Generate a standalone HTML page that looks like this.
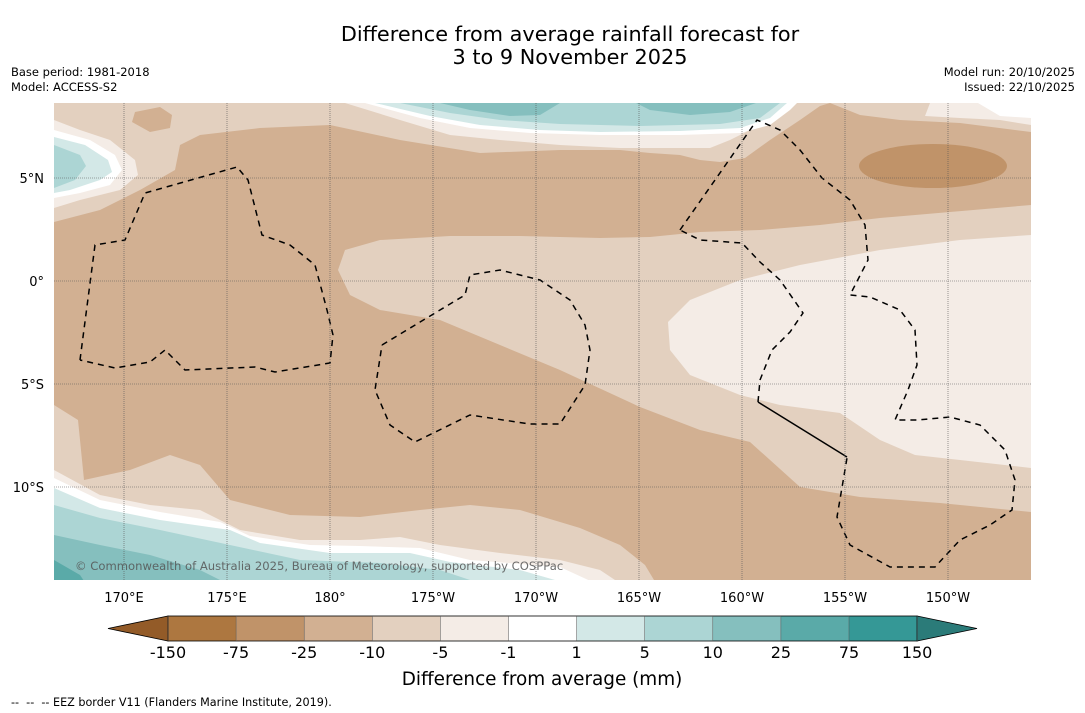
<!DOCTYPE html>
<html><head><meta charset="utf-8"><style>
body{margin:0;background:#fff;width:1085px;height:713px;overflow:hidden;font-family:"Liberation Sans","DejaVu Sans",sans-serif;}
svg{position:absolute;left:0;top:0}
</style></head><body>
<svg id="s" width="1085" height="713" viewBox="0 0 1085 713" font-family="DejaVu Sans, Liberation Sans, sans-serif">
<text x="570" y="41" text-anchor="middle" font-size="20.8">Difference from average rainfall forecast for</text>
<text x="570" y="64" text-anchor="middle" font-size="20.8">3 to 9 November 2025</text>
<text x="11" y="76" font-size="11.5">Base period: 1981-2018</text>
<text x="11" y="91" font-size="11.5">Model: ACCESS-S2</text>
<text x="1075" y="76" font-size="11.5" text-anchor="end">Model run: 20/10/2025</text>
<text x="1075" y="91" font-size="11.5" text-anchor="end">Issued: 22/10/2025</text>
<defs><clipPath id="mc"><rect x="54" y="103" width="977" height="477"/></clipPath></defs>
<g clip-path="url(#mc)">
<rect x="54" y="103" width="977" height="477" fill="#d2b092"/>
<path fill="#e3d0bf" d="M54,103 L1031,103 L1031,132 L960,123 L900,120 L860,115 L830,103 L820,106 L800,120 L770,140 L745,158 L720,162 L700,160 L680,155 L650,153 L620,150 L560,150 L480,153 L400,140 L330,125 L260,128 L200,135 L180,145 L175,170 L140,190 L100,210 L54,222 Z"/>
<path fill="#d2b092" d="M135,112 L160,107 L172,115 L170,128 L150,132 L132,122 Z"/>
<path fill="#f4ece6" d="M930,103 L1031,103 L1031,125 L1000,120 L960,118 L925,116 Z"/>
<path fill="#ffffff" d="M978,103 L1031,103 L1031,118 L1000,116 Z"/>
<path fill="#f4ece6" d="M54,120 L80,130 L110,140 L135,160 L138,175 L120,190 L80,200 L54,208 Z"/>
<path fill="#ffffff" d="M54,130 L90,140 L115,155 L122,170 L110,185 L80,193 L54,198 Z"/>
<path fill="#d3e8e7" d="M54,137 L85,145 L108,160 L112,172 L100,180 L70,190 L54,193 Z"/>
<path fill="#acd5d4" d="M54,145 L80,155 L86,166 L75,180 L54,188 Z"/>
<path fill="#f4ece6" d="M345,103 L400,120 L450,135 L500,140 L560,145 L620,148 L710,148 L730,140 L760,125 L790,103 Z"/>
<path fill="#ffffff" d="M365,103 L420,118 L470,128 L530,133 L600,135 L680,135 L740,133 L770,125 L790,110 L797,103 Z"/>
<path fill="#d3e8e7" d="M375,103 L430,116 L480,125 L540,130 L600,132 L680,131 L740,128 L770,118 L787,103 Z"/>
<path fill="#acd5d4" d="M400,103 L450,113 L500,120 L560,124 L640,126 L720,124 L760,118 L780,103 Z"/>
<path fill="#85bfbe" d="M440,103 L470,110 L510,116 L540,115 L560,103 Z"/>
<path fill="#85bfbe" d="M636,103 L650,110 L690,115 L730,112 L756,103 Z"/>
<ellipse cx="933" cy="166" rx="74" ry="22" fill="#c09369"/>
<path fill="#e3d0bf" d="M345,250 L380,240 L450,236 L520,236 L600,238 L650,237 L700,232 L760,230 L820,225 L880,218 L950,212 L1031,205 L1031,512 L940,503 L860,497 L800,487 L750,442 L700,430 L640,407 L560,370 L500,345 L440,320 L380,310 L350,295 L338,270 Z"/>
<path fill="#f4ece6" d="M1031,235 L960,240 L880,250 L800,265 L740,280 L690,300 L668,322 L670,350 L690,375 L740,395 L780,405 L840,413 L880,440 L915,455 L960,460 L1031,468 Z"/>
<path fill="#e3d0bf" d="M54,405 L78,420 L84,480 L130,470 L170,455 L200,465 L230,500 L290,515 L360,517 L420,510 L470,505 L520,510 L580,528 L620,545 L645,565 L660,590 L54,590 Z"/>
<path fill="#f4ece6" d="M54,470 L100,495 L150,505 L200,510 L240,530 L300,540 L360,540 L400,537 L440,545 L500,553 L560,560 L600,570 L630,590 L54,590 Z"/>
<path fill="#ffffff" d="M54,478 L100,500 L160,512 L220,522 L250,536 L310,545 L360,546 L420,548 L470,560 L560,567 L610,590 L54,590 Z"/>
<path fill="#d3e8e7" d="M54,488 L100,508 L160,520 L230,530 L260,543 L330,553 L410,553 L450,562 L520,570 L590,590 L54,590 Z"/>
<path fill="#acd5d4" d="M54,505 L100,518 L160,530 L230,545 L300,560 L380,563 L440,570 L500,590 L54,590 Z"/>
<path fill="#85bfbe" d="M54,535 L100,545 L150,555 L200,570 L240,590 L54,590 Z"/>
<path fill="#5aaaa8" d="M54,560 L80,575 L90,590 L54,590 Z"/>
<g fill="none" stroke="#000" stroke-width="1.5" stroke-dasharray="6,5">
<polyline points="80,360 95,245 125,240 145,193 237,167 248,180 262,235 290,245 315,265 327,310 333,335 330,363 275,372 255,367 185,370 165,350 150,362 115,368 80,360"/>
<polyline points="382,345 440,310 465,295 470,275 500,270 540,280 570,300 585,325 590,350 585,385 560,424 530,424 470,415 415,442 390,425 375,390 382,345"/>
<polyline points="680,230 757,120 780,130 800,150 822,178 850,200 865,225 868,260 850,295 870,297 900,310 915,330 917,365 908,390 895,420 918,420 950,417 980,425 1005,450 1015,480 1012,510 990,525 960,540 935,567 890,567 850,545 837,517 847,458"/>
<polyline points="758,402 760,380 772,350 790,332 803,313 780,280 760,262 742,243 700,240 680,230"/>
</g>
<polyline points="758,402 847,457" fill="none" stroke="#000" stroke-width="1.5"/>
<g id="grid" stroke="#555" stroke-width="0.6" stroke-dasharray="1,1"></g>
<text x="75" y="570" font-size="11.6" fill="#555" fill-opacity="0.85">© Commonwealth of Australia 2025, Bureau of Meteorology, supported by COSPPac</text>
</g>
<g id="axes" font-size="13"></g>
<g id="cbar"></g>
<text x="542" y="685" text-anchor="middle" font-size="18.4">Difference from average (mm)</text>
<text x="11" y="706" font-size="11.2" xml:space="preserve">--  --  -- EEZ border V11 (Flanders Marine Institute, 2019).</text>
</svg>
<script>
const lonTicks=[170,175,180,185,190,195,200,205,210];
const lonLabels=["170°E","175°E","180°","175°W","170°W","165°W","160°W","155°W","150°W"];
const latTicks=[5,0,-5,-10];
const latLabels=["5°N","0°","5°S","10°S"];
const levelLabels=["-150","-75","-25","-10","-5","-1","1","5","10","25","75","150"];
const levelColors=["#ad7740","#c09369","#d2b092","#e3d0bf","#f4ece6","#ffffff","#d3e8e7","#acd5d4","#85bfbe","#5aaaa8","#359896"];
const NS="http://www.w3.org/2000/svg";
const xOf=lon=>124+(lon-170)*20.6;
const yOf=lat=>281-lat*20.6;
const grid=document.getElementById('grid'),axes=document.getElementById('axes'),cbar=document.getElementById('cbar');
function mk(tag,at,parent){const e=document.createElementNS(NS,tag);for(const k in at)e.setAttribute(k,at[k]);parent.appendChild(e);return e;}
lonTicks.forEach((lon,i)=>{
 const l=mk('line',{x1:xOf(lon),x2:xOf(lon),y1:103,y2:580},grid);
 
 
 const t=mk('text',{x:xOf(lon),y:602,'text-anchor':'middle'},axes);t.textContent=lonLabels[i];
 
 
});
latTicks.forEach((lat,i)=>{
 const l=mk('line',{x1:54,x2:1031,y1:yOf(lat),y2:yOf(lat)},grid);
 
 
 const t=mk('text',{x:44,y:yOf(lat)+5,'text-anchor':'end'},axes);t.textContent=latLabels[i];
 
 
});
const cx0=168,cw=68.1,cy=616,ch=25;
const lt=mk('polygon',{points:`108,${cy+ch/2} ${cx0},${cy} ${cx0},${cy+ch}`,fill:'#935b28',stroke:'#000','stroke-width':0.8},cbar);


levelColors.forEach((c,i)=>{
 const r=mk('rect',{x:cx0+i*cw,y:cy,width:cw,height:ch,fill:c},cbar);
 
 
});
const x1=cx0+levelColors.length*cw;
const rt=mk('polygon',{points:`${x1},${cy} 977,${cy+ch/2} ${x1},${cy+ch}`,fill:'#2b7b79',stroke:'#000','stroke-width':0.8},cbar);


mk('rect',{x:cx0,y:cy,width:x1-cx0,height:ch,fill:'none',stroke:'#000','stroke-width':0.8},cbar);
levelLabels.forEach((s,i)=>{
 mk('line',{x1:cx0+i*cw,x2:cx0+i*cw,y1:cy,y2:cy+ch,stroke:'#555','stroke-width':0.5},cbar);
 const t=mk('text',{x:cx0+i*cw,y:658,'text-anchor':'middle','font-size':16},cbar);t.textContent=s;
 
 
});
</script>
</body></html>
